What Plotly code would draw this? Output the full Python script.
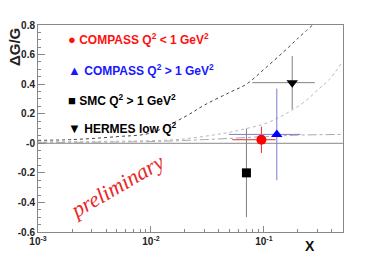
import plotly.graph_objects as go

# ---- data ----
series_names = ["COMPASS Q<sup>2</sup> &lt; 1 GeV<sup>2</sup>",
                "COMPASS Q<sup>2</sup> &gt; 1 GeV<sup>2</sup>",
                "SMC Q<sup>2</sup> &gt; 1 GeV<sup>2</sup>",
                "HERMES low Q<sup>2</sup>"]
pt_x = [0.095, 0.13, 0.07, 0.178]
pt_y = [0.024, 0.06, -0.20, 0.41]
pt_err_y = [0.089, 0.31, 0.30, 0.18]
pt_x_low = [0.0525, 0.049, None, 0.079]
pt_x_high = [0.127, 0.211, None, 0.282]

# model curves
c1_x = [0.001, 0.002, 0.005, 0.01, 0.02, 0.03, 0.05, 0.07, 0.1, 0.15, 0.2, 0.27]
c1_y = [0.02, 0.025, 0.045, 0.07, 0.18, 0.26, 0.345, 0.40, 0.50, 0.62, 0.71, 0.80]
c2_x = [0.001, 0.005, 0.01, 0.018, 0.035, 0.05, 0.07, 0.1, 0.136, 0.178, 0.237, 0.308, 0.378, 0.49]
c2_y = [0.01, 0.014, 0.018, 0.027, 0.055, 0.075, 0.10, 0.13, 0.175, 0.225, 0.29, 0.37, 0.43, 0.545]
c3_x = [0.001, 0.01, 0.03, 0.1, 0.2, 0.5]
c3_y = [0.005, 0.012, 0.025, 0.045, 0.055, 0.06]

y_ticks = [0.8, 0.6, 0.4, 0.2, 0.0, -0.2, -0.4, -0.6]
y_ticklabels = ["0.8", "0.6", "0.4", "0.2", "-0", "-0.2", "-0.4", "-0.6"]
x_ticks = [0.001, 0.01, 0.1]
x_ticklabels = ["10<sup>-3</sup>", "10<sup>-2</sup>", "10<sup>-1</sup>"]

# ---- styles ----
marker_syms = ["circle", "triangle-up", "square", "triangle-down"]
marker_cols = ["#ff0000", "#0000ff", "#000000", "#000000"]
marker_sizes = [10, 10, 9, 10]
err_cols = ["#e03030", "#7d7dd8", "#808080", "#808080"]
text_cols = ["#ff1010", "#1818ff", "#000000", "#000000"]
legend_glyphs = ["●", "▲", "■", "▼"]

fig = go.Figure()

fig.add_trace(go.Scatter(x=[0.001, 0.5], y=[0, 0], mode="lines",
                         line=dict(color="#888888", width=1), hoverinfo="skip"))
fig.add_trace(go.Scatter(x=c3_x, y=c3_y, mode="lines", line_shape="spline",
                         line=dict(color="#aaaaaa", width=1, dash="dashdot")))
fig.add_trace(go.Scatter(x=c2_x, y=c2_y, mode="lines", line_shape="spline",
                         line=dict(color="#b8b8b8", width=1, dash="dot")))
fig.add_trace(go.Scatter(x=c1_x, y=c1_y, mode="lines", line_shape="spline",
                         line=dict(color="#444444", width=1, dash="dot")))

for i in range(4):
    ex = None
    if pt_x_low[i] is not None:
        ex = dict(type="data", symmetric=False,
                  array=[pt_x_high[i] - pt_x[i]], arrayminus=[pt_x[i] - pt_x_low[i]],
                  color=err_cols[i], thickness=1, width=0)
    fig.add_trace(go.Scatter(
        x=[pt_x[i]], y=[pt_y[i]], mode="markers", name=series_names[i],
        marker=dict(symbol=marker_syms[i], size=marker_sizes[i], color=marker_cols[i]),
        error_y=dict(type="data", array=[pt_err_y[i]], color=err_cols[i], thickness=1, width=0),
        error_x=ex))

# legend as annotations
leg_y = [0.93, 0.785, 0.64, 0.502]
for i in range(4):
    fig.add_annotation(xref="paper", yref="paper", x=0.092, y=leg_y[i], xanchor="left",
                       yanchor="middle", showarrow=False,
                       text=f"<span style='font-size:13px'>{legend_glyphs[i]}</span>&nbsp;<b>{series_names[i]}</b>",
                       font=dict(family="Liberation Sans", size=12, color=text_cols[i]))

fig.add_annotation(xref="paper", yref="paper", x=0.256, y=0.222, xanchor="center",
                   yanchor="middle", showarrow=False,
                   text="<i>preliminary</i>", textangle=-30,
                   font=dict(family="Liberation Serif", size=22, color="#e82828"))

fig.add_annotation(xref="paper", yref="paper", x=-0.075, y=0.894, xanchor="center",
                   yanchor="middle", showarrow=False,
                   text="<b>ΔG/G</b>", textangle=-90,
                   font=dict(family="Liberation Sans", size=15, color="#222222"))
fig.add_annotation(xref="paper", yref="paper", x=0.892, y=-0.068, xanchor="center",
                   yanchor="middle", showarrow=False,
                   text="<b>X</b>", font=dict(family="Liberation Sans", size=14, color="#111111"))

minor_x = [m * 10 ** e for e in (-3, -2, -1) for m in range(2, 10) if m * 10 ** e <= 0.5]

fig.update_layout(
    width=382, height=259, showlegend=False,
    margin=dict(l=38, r=39, t=25, b=27),
    paper_bgcolor="white", plot_bgcolor="white",
    font=dict(family="Liberation Sans", size=9, color="#333333"),
    xaxis=dict(type="log", range=[-3, -0.3], tickmode="array", tickvals=x_ticks,
               ticktext=x_ticklabels, ticks="inside", ticklen=6, tickcolor="#888888",
               showline=True, linecolor="#888888", linewidth=1, mirror=True,
               showgrid=False, zeroline=False,
               tickfont=dict(family="Liberation Sans", size=10, color="#222222", weight="bold"),
               minor=dict(tickvals=minor_x, ticks="inside", ticklen=3, tickcolor="#888888",
                          showgrid=False)),
    yaxis=dict(range=[-0.6, 0.8], tickmode="array", tickvals=y_ticks, ticktext=y_ticklabels,
               ticks="inside", ticklen=7, tickcolor="#888888",
               showline=True, linecolor="#888888", linewidth=1, mirror=True,
               showgrid=False, zeroline=False,
               tickfont=dict(family="Liberation Sans", size=10, color="#222222", weight="bold"),
               minor=dict(tickmode="linear", tick0=0, dtick=0.05, ticks="inside",
                          ticklen=3, tickcolor="#888888", showgrid=False)),
)

fig.write_html("out.html", config={"displayModeBar": False},
               post_script="document.body.style.margin='0';")
